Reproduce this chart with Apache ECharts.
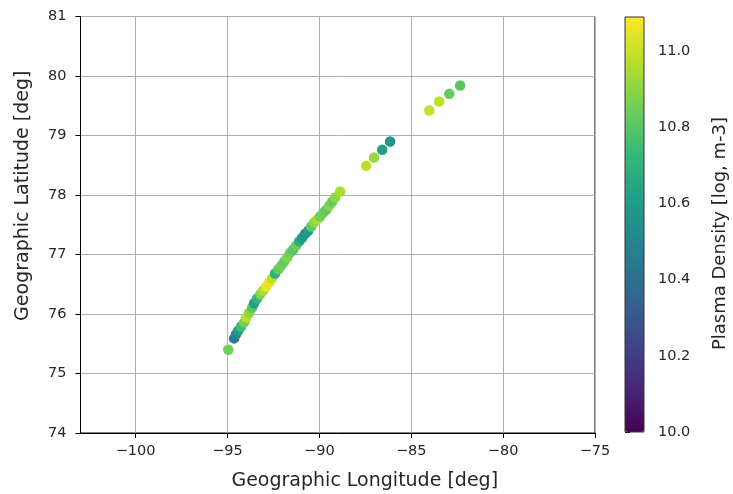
<!DOCTYPE html>
<html>
<head>
<meta charset="utf-8">
<script src="https://cdn.jsdelivr.net/npm/echarts@6/dist/echarts.min.js"></script>
<style>
  html, body { margin: 0; padding: 0; background: #fff; }
  #chart { width: 733px; height: 494px; }
</style>
</head>
<body>
<div id="chart"></div>
<script>
// Satellite track samples: geographic position and log plasma density
const longitude = [
  -94.96, -94.64, -94.53, -94.42, -94.26, -94.09, -93.98, -93.82, -93.66, -93.55,
  -93.39, -93.22, -93.06, -92.90, -92.73, -92.57, -92.41, -92.24, -92.08, -91.92,
  -91.75, -91.59, -91.43, -91.26, -91.10, -90.94, -90.77, -90.61, -90.45, -90.28,
  -90.12, -89.96, -89.79, -89.63, -89.47, -89.30, -89.14, -88.87,
  -87.45, -87.02, -86.58, -86.15,
  -84.02, -83.48, -82.93, -82.34
];
const latitude = [
  75.40, 75.59, 75.66, 75.72, 75.79, 75.86, 75.94, 76.02, 76.11, 76.18,
  76.26, 76.33, 76.39, 76.46, 76.53, 76.60, 76.68, 76.75, 76.81, 76.88,
  76.95, 77.03, 77.08, 77.15, 77.22, 77.28, 77.35, 77.40, 77.47, 77.54,
  77.59, 77.64, 77.70, 77.75, 77.82, 77.89, 77.96, 78.06,
  78.49, 78.63, 78.76, 78.90,
  79.42, 79.57, 79.70, 79.84
];
const density = [
  10.85, 10.45, 10.50, 10.60, 10.75, 10.85, 10.97, 10.90, 10.80, 10.62,
  10.72, 10.88, 10.95, 11.05, 11.05, 10.98, 10.68, 10.82, 10.85, 10.82,
  10.88, 10.85, 10.80, 10.85, 10.68, 10.60, 10.55, 10.60, 10.82, 10.90,
  10.95, 10.85, 10.85, 10.82, 10.88, 10.82, 10.90, 10.95,
  10.98, 10.92, 10.62, 10.57,
  11.00, 10.98, 10.83, 10.80
];

// Axis ticks
const lonTicks = [-100, -95, -90, -85, -80, -75];
const densityTicks = [10.0, 10.2, 10.4, 10.6, 10.8, 11.0];
const densityRange = [10.0, 11.09];

const viridis = ['#440154', '#482878', '#3e4989', '#31688e', '#26828e',
                 '#1f9e89', '#35b779', '#6ece58', '#b5de2b', '#fde725'];

const points = longitude.map((v, i) => [v, latitude[i], density[i]]);

const font = 'DejaVu Sans';
const fs = 14.5;     // tick labels
const nameFs = 19;   // axis titles
const txt = '#262626';
const minus = s => String(s).replace('-', '\u2212');

const chart = echarts.init(document.getElementById('chart'), null, { renderer: 'canvas' });
chart.setOption({
  animation: false,
  backgroundColor: '#fff',
  textStyle: { fontFamily: font },
  grid: [
    { left: 80.5, top: 16.5, width: 514.5, height: 416.5, show: true,
      outerBoundsMode: 'none', containLabel: false,
      borderColor: '#000', borderWidth: 1, backgroundColor: 'transparent' },
    { left: 625, top: 17, width: 19, height: 415, show: true,
      outerBoundsMode: 'none', containLabel: false,
      borderColor: '#333', borderWidth: 1, backgroundColor: 'transparent', z: 10 }
  ],
  xAxis: [
    {
      gridIndex: 0, type: 'value', min: -103, max: -75,
      name: 'Geographic Longitude [deg]', nameLocation: 'middle', nameGap: 39,
      nameTextStyle: { fontFamily: font, fontSize: nameFs, color: txt,
                       padding: [0, 0, 0, 54] },
      axisLine: { show: true, onZero: false, lineStyle: { color: '#000', width: 1 } },
      axisTick: { show: true, inside: false, length: 5, customValues: lonTicks,
                  lineStyle: { color: '#000' } },
      axisLabel: { customValues: lonTicks, margin: 11, fontFamily: font, fontSize: fs,
                   color: txt, formatter: v => minus(v) },
      splitLine: { show: true, lineStyle: { color: '#b0b0b0', width: 1 } }
    },
    {
      gridIndex: 1, type: 'value', min: 0, max: 1, show: false
    }
  ],
  yAxis: [
    {
      gridIndex: 0, type: 'value', min: 74, max: 81, interval: 1,
      name: 'Geographic Latitude [deg]', nameLocation: 'middle', nameGap: 48,
      nameRotate: 90,
      nameTextStyle: { fontFamily: font, fontSize: nameFs, color: txt,
                       padding: [0, 0, 0, 58] },
      axisLine: { show: true, onZero: false, lineStyle: { color: '#000', width: 1 } },
      axisTick: { show: true, inside: false, length: 5, lineStyle: { color: '#000' } },
      axisLabel: { margin: 14, fontFamily: font, fontSize: fs, color: txt },
      splitLine: { show: true, lineStyle: { color: '#b0b0b0', width: 1 } }
    },
    {
      gridIndex: 1, type: 'value', position: 'right',
      min: densityRange[0], max: densityRange[1],
      name: 'Plasma Density [log, m-3]', nameLocation: 'middle', nameGap: 67,
      nameRotate: 90,
      nameTextStyle: { fontFamily: font, fontSize: 18, color: txt,
                       padding: [0, 18, 0, 0] },
      axisLine: { show: false },
      axisTick: { show: true, inside: false, length: 5, customValues: densityTicks,
                  lineStyle: { color: '#000' } },
      axisLabel: { customValues: densityTicks, margin: 14, fontFamily: font, fontSize: fs,
                   color: txt, formatter: v => Number(v).toFixed(1) },
      splitLine: { show: false }
    }
  ],
  visualMap: {
    type: 'continuous',
    seriesIndex: 0,
    dimension: 2,
    min: densityRange[0],
    max: densityRange[1],
    calculable: false,
    realtime: false,
    left: 625,
    top: 17,
    itemWidth: 19,
    itemHeight: 415,
    padding: 0,
    text: null,
    showLabel: false,
    inRange: { color: viridis }
  },
  series: [
    {
      type: 'scatter',
      xAxisIndex: 0,
      yAxisIndex: 0,
      symbol: 'circle',
      symbolSize: 10.5,
      data: points,
      itemStyle: { opacity: 1 },
      z: 3
    }
  ]
});
</script>
</body>
</html>
